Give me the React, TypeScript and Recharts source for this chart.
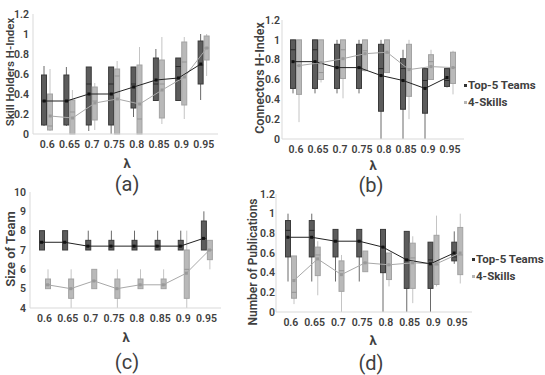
import React from 'react';
import { ComposedChart, Bar, Line, XAxis, YAxis } from 'recharts';

const LAMBDAS = ['0.6', '0.65', '0.7', '0.75', '0.8', '0.85', '0.9', '0.95'];

// each entry: [min, q1, median, q3, max]
const A_TOP_BOX = [
  [0.08, 0.09, 0.33, 0.59, 0.68],
  [0.08, 0.09, 0.33, 0.59, 0.67],
  [0.03, 0.09, 0.5, 0.67, 0.67],
  [0.0, 0.09, 0.5, 0.67, 0.67],
  [0.17, 0.26, 0.5, 0.67, 0.67],
  [0.335, 0.335, 0.5, 0.76, 0.85],
  [0.335, 0.335, 0.675, 0.76, 0.76],
  [0.34, 0.5, 0.69, 0.93, 1.0],
];
const A_TOP_MEAN = [0.33, 0.33, 0.4, 0.4, 0.47, 0.54, 0.56, 0.7];
const A_SK_BOX = [
  [0.03, 0.04, 0.08, 0.4, 0.65],
  [0.0, 0.0, 0.22, 0.34, 0.44],
  [0.04, 0.14, 0.33, 0.47, 0.51],
  [0.0, 0.0, 0.58, 0.65, 0.73],
  [0.0, 0.0, 0.15, 0.69, 0.87],
  [0.1, 0.16, 0.5, 0.74, 0.97],
  [0.15, 0.29, 0.72, 0.92, 0.97],
  [0.58, 0.74, 0.86, 0.98, 1.0],
];
const A_SK_MEAN = [0.18, 0.16, 0.31, 0.35, 0.3, 0.44, 0.57, 0.86];

const B_TOP_BOX = [
  [0.46, 0.51, 0.9, 1.0, 1.0],
  [0.46, 0.51, 0.9, 1.0, 1.0],
  [0.46, 0.51, 0.72, 0.955, 1.0],
  [0.46, 0.51, 0.72, 0.955, 1.0],
  [0.0, 0.28, 0.71, 0.955, 1.0],
  [0.0, 0.3, 0.71, 0.81, 0.9],
  [0.0, 0.26, 0.59, 0.71, 0.71],
  [0.52, 0.53, 0.59, 0.71, 0.71],
];
const B_TOP_MEAN = [0.78, 0.78, 0.72, 0.72, 0.64, 0.59, 0.51, 0.62];
const B_SK_BOX = [
  [0.17, 0.45, 0.74, 1.0, 1.0],
  [0.57, 0.6, 0.67, 1.0, 1.0],
  [0.41, 0.61, 0.9, 1.0, 1.0],
  [0.68, 0.69, 0.89, 1.0, 1.0],
  [0.67, 0.67, 0.87, 1.0, 1.0],
  [0.2, 0.43, 0.71, 0.955, 1.0],
  [0.6, 0.6, 0.78, 0.85, 0.9],
  [0.45, 0.56, 0.72, 0.875, 0.89],
];
const B_SK_MEAN = [0.74, 0.77, 0.81, 0.86, 0.875, 0.7, 0.73, 0.72];

const C_TOP_BOX = [
  [7, 7, 7.4, 8, 8],
  [7, 7, 7.4, 8, 8],
  [7, 7, 7.2, 7.5, 8],
  [7, 7, 7.2, 7.5, 8],
  [7, 7, 7.2, 7.5, 8],
  [7, 7, 7.2, 7.5, 8],
  [7, 7, 7.2, 7.5, 8],
  [7, 7, 7.6, 8.5, 9],
];
const C_TOP_MEAN = [7.4, 7.4, 7.2, 7.2, 7.2, 7.2, 7.2, 7.6];
const C_SK_BOX = [
  [5, 5, 5.2, 5.5, 6],
  [4, 4.5, 5, 5.5, 6],
  [5, 5, 5.4, 6, 6],
  [4, 4.5, 5, 5.5, 6],
  [5, 5, 5.2, 5.5, 6],
  [5, 5, 5.2, 5.5, 6],
  [4, 4.5, 6, 7, 8],
  [6, 6.5, 7, 7.5, 7.5],
];
const C_SK_MEAN = [5.2, 5.0, 5.4, 5.0, 5.2, 5.2, 5.8, 7.0];

const D_TOP_BOX = [
  [0.31, 0.56, 0.83, 0.93, 1.0],
  [0.31, 0.56, 0.83, 0.93, 1.0],
  [0.31, 0.56, 0.72, 0.84, 0.84],
  [0.31, 0.56, 0.72, 0.84, 0.84],
  [0.0, 0.4, 0.66, 0.84, 0.84],
  [0.0, 0.24, 0.53, 0.82, 0.82],
  [0.0, 0.24, 0.53, 0.71, 0.71],
  [0.49, 0.52, 0.56, 0.71, 0.82],
];
const D_TOP_MEAN = [0.76, 0.76, 0.72, 0.72, 0.66, 0.53, 0.49, 0.6];
const D_SK_BOX = [
  [0.08, 0.14, 0.2, 0.57, 0.57],
  [0.17, 0.37, 0.58, 0.66, 0.72],
  [0.0, 0.21, 0.42, 0.52, 0.58],
  [0.41, 0.41, 0.5, 0.62, 0.62],
  [0.26, 0.33, 0.48, 0.6, 0.6],
  [0.09, 0.24, 0.55, 0.7, 0.77],
  [0.26, 0.28, 0.48, 0.78, 0.98],
  [0.29, 0.38, 0.58, 0.86, 1.0],
];
const D_SK_MEAN = [0.32, 0.54, 0.38, 0.5, 0.48, 0.5, 0.49, 0.6];

const H_TICKS = [0, 0.2, 0.4, 0.6, 0.8, 1, 1.2];
const SIZE_TICKS = [4, 5, 6, 7, 8, 9, 10];

const TEXT = '#404040';
const FONT = 'Roboto, "Liberation Sans", sans-serif';

const makeShape = (key: string, fill: string, stroke: string, whisker: string, med: string) => (props: any) => {
  const { x, y, width, height, payload } = props;
  const b = payload[key];
  const [mn, q1, md, q3, mx] = b;
  const yTop = Math.min(y, y + height);
  const yBot = Math.max(y, y + height);
  const span = mx - mn;
  const py = (v: number) => (span === 0 ? yBot : yBot - ((v - mn) / span) * (yBot - yTop));
  const cx = x + width / 2;
  return (
    <g>
      <line x1={cx} x2={cx} y1={py(mx)} y2={py(mn)} stroke={whisker} strokeWidth={1} />
      <rect x={x + 0.5} y={py(q3)} width={width - 1} height={Math.max(0, py(q1) - py(q3))} fill={fill} stroke={stroke} strokeWidth={1} />
      <line x1={x + 0.5} x2={x + width - 0.5} y1={py(md)} y2={py(md)} stroke={med} strokeWidth={1} />
    </g>
  );
};

const topShape = makeShape('tBox', '#5c5c5c', '#3a3a3a', '#6a6a6a', '#2a2a2a');
const skShape = makeShape('sBox', '#b9b9b9', '#a3a3a3', '#c4c4c4', '#959595');

const darkDot = (p: any) => <rect key={`dd${p.index}`} x={p.cx - 1.5} y={p.cy - 1.5} width={3} height={3} fill="#111" />;
const lightDot = (p: any) => <rect key={`ld${p.index}`} x={p.cx - 1.5} y={p.cy - 1.5} width={3} height={3} fill="#999" />;

type PanelProps = {
  left: number; top: number; width: number; height: number;
  domain: [number, number]; ticks: number[]; yMargin: number;
  topBox: number[][]; topMean: number[]; skBox: number[][]; skMean: number[];
};

function Panel({ left, top, width, height, domain, ticks, yMargin, topBox, topMean, skBox, skMean }: PanelProps) {
  const data = LAMBDAS.map((cat, i) => ({
    cat,
    tRange: [topBox[i][0], topBox[i][4]],
    tBox: topBox[i],
    tMean: topMean[i],
    sRange: [skBox[i][0], skBox[i][4]],
    sBox: skBox[i],
    sMean: skMean[i],
  }));
  const ML = 40, MT = 10, MR = 10, MB = 30;
  const tickStyle = { fill: TEXT, fontSize: 10.5, fontWeight: 600, fontFamily: FONT };
  return (
    <div style={{ position: 'absolute', left: left - ML, top: top - MT }}>
      <ComposedChart width={width + ML + MR} height={height + MT + MB} data={data} margin={{ top: MT, right: MR, left: 0, bottom: 0 }}>
        <XAxis xAxisId="d" dataKey="cat" hide height={0} padding={{ left: 0, right: 6 }} />
        <XAxis xAxisId="l" dataKey="cat" hide height={0} padding={{ left: 6, right: 0 }} />
        <XAxis xAxisId="m" dataKey="cat" padding={{ left: 3, right: 3 }} tickSize={0} tickMargin={7} tickLine={false}
          axisLine={{ stroke: '#d9d9d9' }} tick={tickStyle} height={MB} interval={0} />
        <YAxis domain={domain} ticks={ticks} width={ML} tickSize={0} tickMargin={yMargin} tickLine={false}
          axisLine={{ stroke: '#d9d9d9' }} tick={tickStyle} interval={0} />
        <Bar xAxisId="d" dataKey="tRange" barSize={6} shape={topShape} isAnimationActive={false} />
        <Bar xAxisId="l" dataKey="sRange" barSize={6} shape={skShape} isAnimationActive={false} />
        <Line xAxisId="l" dataKey="sMean" stroke="#a8a8a8" strokeWidth={1} dot={lightDot} activeDot={false} isAnimationActive={false} />
        <Line xAxisId="d" dataKey="tMean" stroke="#222" strokeWidth={1} dot={darkDot} activeDot={false} isAnimationActive={false} />
        <Line xAxisId="m" dataKey="tMean" stroke="none" dot={false} activeDot={false} isAnimationActive={false} />
      </ComposedChart>
    </div>
  );
}

const centered = (x: number, y: number, style: React.CSSProperties = {}): React.CSSProperties => ({
  position: 'absolute', left: x, top: y, transform: 'translate(-50%, -50%)', whiteSpace: 'nowrap',
  color: TEXT, fontFamily: FONT, ...style,
});
const rotated = (x: number, y: number, size: number): React.CSSProperties => ({
  position: 'absolute', left: x, top: y, transform: 'translate(-50%, -50%) rotate(-90deg)', whiteSpace: 'nowrap',
  color: TEXT, fontFamily: FONT, fontSize: size, fontWeight: 600,
});
const lambdaStyle = { fontSize: 13, fontWeight: 700 };
const captionStyle = { fontSize: 20, fontWeight: 400 };

function Legend({ x, y }: { x: number; y: number }) {
  const row = (color: string, text: string, dy: number) => (
    <div style={{ position: 'absolute', left: x, top: y + dy, height: 14, display: 'flex', alignItems: 'center', whiteSpace: 'nowrap',
      color: TEXT, fontFamily: FONT, fontSize: 11.5, fontWeight: 700 }}>
      <span style={{ display: 'inline-block', width: 3, height: 3, background: color, marginRight: 1 }} />
      <span>{text}</span>
    </div>
  );
  return (
    <>
      {row('#333', 'Top-5 Teams', 0)}
      {row('#b5b5b5', '4-Skills', 17)}
    </>
  );
}

export default function App() {
  return (
    <div style={{ position: 'absolute', left: 0, top: 0, width: 545, height: 375, background: '#fff', overflow: 'hidden' }}>
      <Panel left={33} top={14} width={185} height={120} domain={[0, 1.2]} ticks={H_TICKS} yMargin={4}
        topBox={A_TOP_BOX} topMean={A_TOP_MEAN} skBox={A_SK_BOX} skMean={A_SK_MEAN} />
      <Panel left={282} top={20} width={182} height={119} domain={[0, 1.2]} ticks={H_TICKS} yMargin={2}
        topBox={B_TOP_BOX} topMean={B_TOP_MEAN} skBox={B_SK_BOX} skMean={B_SK_MEAN} />
      <Panel left={30} top={192} width={191} height={116} domain={[4, 10]} ticks={SIZE_TICKS} yMargin={4}
        topBox={C_TOP_BOX} topMean={C_TOP_MEAN} skBox={C_SK_BOX} skMean={C_SK_MEAN} />
      <Panel left={276} top={194} width={196} height={118} domain={[0, 1.2]} ticks={H_TICKS} yMargin={1}
        topBox={D_TOP_BOX} topMean={D_TOP_MEAN} skBox={D_SK_BOX} skMean={D_SK_MEAN} />

      <div style={rotated(10, 72, 11.5)}>Skill Holders H-Index</div>
      <div style={rotated(259, 78, 12.5)}>Connectors H-Index</div>
      <div style={rotated(10, 249, 13)}>Size of Team</div>
      <div style={rotated(253, 262, 12)}>Number of Publications</div>

      <div style={centered(127, 163, lambdaStyle)}>λ</div>
      <div style={centered(373, 165, lambdaStyle)}>λ</div>
      <div style={centered(126, 337, lambdaStyle)}>λ</div>
      <div style={centered(373, 340, lambdaStyle)}>λ</div>

      <div style={centered(127, 184, captionStyle)}>(a)</div>
      <div style={centered(371, 185, captionStyle)}>(b)</div>
      <div style={centered(127, 362, captionStyle)}>(c)</div>
      <div style={centered(371, 363, captionStyle)}>(d)</div>

      <Legend x={464} y={78} />
      <Legend x={472} y={252} />
    </div>
  );
}
